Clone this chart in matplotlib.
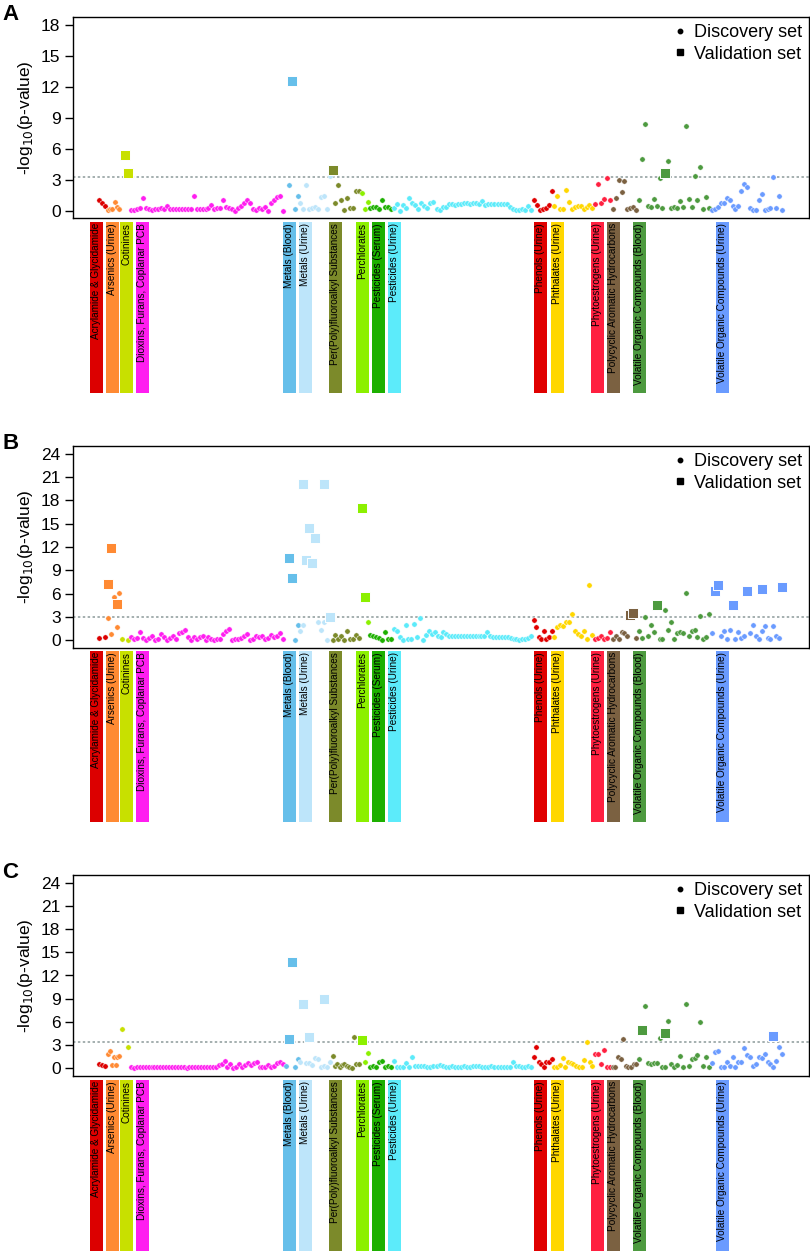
import numpy as np
import matplotlib
matplotlib.use('Agg')
import matplotlib.pyplot as plt
from matplotlib.lines import Line2D

plt.rcParams['font.family'] = ['Liberation Sans', 'DejaVu Sans']
nan = np.nan

# ---------------- categories ----------------
groups = ['Acrylamide & Glycidamide', 'Arsenics (Urine)', 'Cotinines',
          'Dioxins, Furans, Coplanar PCB', 'Metals (Blood)', 'Metals (Urine)',
          'Per(Poly)fluoroalkyl Substances', 'Perchlorates', 'Pesticides (Serum)',
          'Pesticides (Urine)', 'Phenols (Urine)', 'Phthalates (Urine)',
          'Phytoestrogens (Urine)', 'Polycyclic Aromatic Hydrocarbons',
          'Volatile Organic Compounds (Blood)', 'Volatile Organic Compounds (Urine)']
counts = [3, 5, 3, 53, 5, 11, 10, 3, 8, 48, 7, 14, 6, 9, 25, 25]
colors = ['#DC0000', '#FF8A33', '#C8E000', '#FF1EF0', '#66BFEA', '#BDE5FA',
          '#7C8A2A', '#8CF000', '#1DB000', '#5CEBFA', '#E00000', '#FFD700',
          '#FF2040', '#7B6141', '#4D9A3F', '#6A9BFF']
yticks_A = [0, 3, 6, 9, 12, 15, 18]
yticks_BC = [0, 3, 6, 9, 12, 15, 18, 21, 24]
thresholds = [3.3, 2.95, 3.45]

# ---------------- panel A (discovery, -log10 p) ----------------
A_acryl = [1.0, 0.8, 0.5]
A_ars = [0.1, 0.15, 0.2, 0.9, 0.35, 0.15]
A_cot = []
A_diox = [0.1, 0.1, 0.15, 0.3, 1.2, 0.25, 0.15, 0.1, 0.15, 0.15, 0.25, 0.15, 0.5, 0.15,
          0.15, 0.15, 0.15, 0.2, 0.2, 0.2, 0.2, 1.4, 0.15, 0.15, 0.2, 0.15, 0.25, 0.6,
          0.15, 0.3, 0.3, 1.0, 0.4, 0.25, 0.15, 0.0, 0.25, 0.5, 0.75, 1.05, 0.75, 0.15,
          0.1, 0.25, 0.15, 0.35, 0.0, 0.75, 1.05, 1.3, 1.45, 0.0]
A_mb = [nan, 2.5, nan, 0.2, 1.4]
A_mu = [0.8, 0.15, 2.5, 0.15, 0.3, 0.4, 0.15, 1.3, 1.4, 0.2, 3.4]
A_pfas = [nan, 0.8, 2.5, 1.0, 0.1, 1.2, 0.3, 0.3, 1.9, 1.9]
A_perc = [1.7, 0.2, 0.9]
A_ps = [0.3, 0.4, 0.4, 0.2, 1.05, 0.4, 0.4, 0.2]
A_pu = [0.25, 0.65, 0.0, 0.6, 0.25, 1.2, 0.75, 0.6, 0.15, 0.75, 0.5, 0.25, 0.75, 0.9,
        0.15, 0.1, 0.4, 0.4, 0.7, 0.65, 0.6, 0.65, 0.7, 0.75, 0.75, 0.65, 0.8, 0.75,
        0.65, 0.95, 0.6, 0.65, 0.65, 0.65, 0.65, 0.65, 0.65, 0.65, 0.4, 0.15, 0.1, 0.1,
        0.15, 0.1, 0.5, 0.05]
A_phen = [1.05, 0.6, 0.1, 0.15, 0.25, 0.6, 1.9]
A_phth = [0.5, 1.4, 0.15, 0.15, 2.0, 0.9, 0.15, 0.4, 0.5, 0.5, 0.15, 0.4, 0.6, 0.3]
A_phyto = [0.65, 2.6, 0.8, 1.1, 3.15, 1.0]
A_pah = [0.2, 1.2, 3.0, 1.85, 2.9, 0.2, 0.3, 0.4, 0.1]
A_vocb = [1.05, 5.0, 8.4, 0.5, 0.4, 1.1, 0.5, 3.2, 0.3, nan, 4.8, 0.3, 0.4, 0.3, 0.95,
          0.4, 8.25, 1.1, 0.4, 3.4, 1.05, 4.2, 0.2, 1.3, 0.3]
A_vocu = [0.1, 0.2, 0.4, 0.75, 0.75, 1.2, 1.0, 0.5, 0.2, 0.5, 1.95, 2.6, 2.3, 0.3, 0.1,
          0.1, 1.0, 1.65, 0.1, 0.15, 0.3, 3.25, 0.3, 1.45, 0.1]
# validation: (group index, slot within group, -log10 p)
A_valid = [(2, 1, 5.4), (2, 2, 3.65), (4, 2, 12.6), (6, 0, 4.0), (14, 9, 3.7)]

# ---------------- panel B ----------------
B_acryl = [0.35, 0.45]
B_ars = [2.85, 0.8, 5.6, 1.7, 6.05]
B_cot = [0.2, 0.05]
B_diox = [0.4, 0.2, 0.35, 1.05, 0.25, 0.05, 0.35, 0.6, 0.05, 0.2, 0.8, 0.4, 0.05, 0.3,
          0.5, 0.15, 0.9, 1.1, 1.35, 0.4, 0.05, 0.4, 0.2, 0.4, 0.6, 0.05, 0.4, 0.2, 0.05,
          0.1, 0.15, 0.8, 1.25, 1.4, 0.05, 0.1, 0.15, 0.25, 0.6, 0.8, 0.05, 0.1, 0.6, 0.4,
          0.6, 0.2, 0.3, 0.7, 0.4, 0.6, 0.9, 0.15]
B_mb = [nan, nan, nan, 0.05, 1.9]
B_mu = [1.15, 2.0, nan, nan, nan, nan, 2.4, 1.35, 2.3, 0.05, nan]
B_pfas = [0.05, 0.7, 0.1, 0.6, 0.05, 1.15, 0.1, 0.2, 0.7, 0.3]
B_perc = [nan, nan, 2.3]
B_ps = [0.7, 0.6, 0.45, 0.3, 0.05, 1.05, 0.1, 0.2]
B_pu = [1.5, 1.25, 0.4, 0.05, 1.9, 0.2, 0.2, 2.05, 0.4, 2.9, 0.05, 0.7, 1.25, 0.8, 1.1,
        0.5, 0.4, 1.1, 0.8, 0.5, 0.6, 0.55, 0.5, 0.55, 0.5, 0.5, 0.55, 0.5, 0.5, 0.5,
        0.55, 0.5, 1.0, 0.5, 0.45, 0.45, 0.45, 0.45, 0.45, 0.45, 0.3, 0.15, 0.1, 0.05,
        0.1, 0.15, 0.3, 0.5]
B_phen = [2.6, 1.65, 0.4, 0.2, 1.15, 0.15, 0.45, 1.2]
B_phth = [0.4, 1.75, 1.9, 1.85, 2.3, 2.3, 3.4, 1.15, 0.8, 0.5, 1.2, 0.2, 7.1, 0.7]
B_phyto = [0.2, 0.3, 0.6, 0.2, 0.3, 1.0]
B_pah = [0.2, 0.6, 0.2, 1.0, 0.95, 0.6, nan, nan, 0.3]
B_vocb = [1.2, 0.35, 2.95, 0.6, 1.95, 1.1, nan, 0.1, 0.1, 3.9, 1.3, 2.4, 0.2, 0.9, 1.0,
          0.9, 6.05, 0.6, 1.2, 1.3, 0.4, 3.1, 0.2, 0.4, 3.4]
B_vocu = [0.95, nan, nan, 0.5, 1.2, 0.2, 1.3, nan, 0.1, 1.1, 0.3, 0.5, nan, 0.95, 2.0,
          0.6, 0.1, 1.2, 1.85, 0.3, 0.1, 1.8, 0.6, 0.3, nan]
B_valid = [(1, 0, 7.2), (1, 1, 11.9), (1, 3, 4.7), (4, 1, 10.6), (4, 2, 8.0),
           (5, 1, 20.06), (5, 2, 10.3), (5, 3, 14.4), (5, 4, 10.0), (5, 5, 13.1),
           (5, 8, 20.06), (5, 10, 3.05), (7, 0, 17.0), (7, 1, 5.55),
           (13, 6, 3.25), (13, 7, 3.45), (14, 6, 4.5),
           (15, 1, 6.4), (15, 2, 7.1), (15, 7, 4.5), (15, 12, 6.3), (15, 17, 6.6),
           (15, 24, 6.8)]

# ---------------- panel C ----------------
C_acryl = [0.55, 0.45, 0.3]
C_ars = [1.9, 2.2, 0.4, 1.4, 0.4, 1.5, 1.6]
C_cot = [5.1, 2.8]
C_diox = [0.1, 0.05, 0.1, 0.1, 0.15, 0.1, 0.15, 0.1, 0.15, 0.2, 0.1, 0.1, 0.15, 0.1,
          0.15, 0.2, 0.15, 0.15, 0.1, 0.05, 0.1, 0.1, 0.15, 0.1, 0.15, 0.2, 0.15, 0.1,
          0.15, 0.2, 0.4, 0.6, 1.0, 0.2, 0.5, 0.05, 0.2, 0.55, 0.2, 0.45, 0.65, 0.4,
          0.65, 0.75, 0.1, 0.2, 0.1, 0.45, 0.2, 0.3, 0.65, 0.75, 0.5]
C_mb = [0.3, nan, nan, 0.1, 1.2]
C_mu = [0.75, nan, 0.7, 0.7, 0.4, 1.35, 1.15, 0.2, 0.35, 0.1, 0.8]
C_pfas = [1.65, 0.35, 0.6, 0.2, 0.4, 0.6, 0.35, 0.2, 0.0, 4.0, 0.5, 0.5]
C_perc = [nan, 0.85, 1.95]
C_ps = [0.2, 0.3, 0.2, 0.85, 1.0, 0.2, 0.35, 0.2]
C_pu = [1.0, 0.2, 0.2, 0.2, 0.65, 0.15, 1.5, 0.25, 0.25, 0.35, 0.35, 0.15, 0.2, 0.25,
        0.3, 0.4, 0.25, 0.2, 0.2, 0.25, 0.2, 0.2, 0.2, 0.25, 0.2, 0.2, 0.25, 0.3, 0.25,
        0.2, 0.2, 0.2, 0.25, 0.2, 0.2, 0.2, 0.2, 0.2, 0.2, 0.85, 0.3, 0.25, 0.2, 0.15,
        0.25, 0.1]
C_phen = [1.5, 2.75, 0.85, 0.55, 0.2, 0.75, 0.85, 1.2]
C_phth = [0.1, 0.2, 0.4, 1.3, 0.1, 0.75, 0.7, 0.55, 0.35, 0.2, 0.2, 1.1, 3.45, 0.8, 0.35]
C_phyto = [1.9, 1.85, 0.5, 2.35, 0.2, 0.2]
C_pah = [0.1, 0.1, 1.5, 1.25, 3.75, 0.35, 0.2, 0.2, 0.5, 0.55]
C_vocb = [1.2, nan, 8.1, 0.65, 0.5, 0.7, 0.65, 3.9, 0.2, 0.1, 6.15, 0.5, 0.2, 0.4, 1.6,
          0.1, 8.35, 0.3, 1.2, 1.35, 1.7, 6.0, 0.25, 1.4, 0.2]
C_vocu = [0.65, 2.05, 2.25, 0.2, 0.2, 0.85, 0.35, 1.4, 0.2, 0.85, 0.75, 2.65, 1.7, 1.5,
          0.3, 0.55, 1.4, 1.3, 1.9, 0.85, 0.55, 0.2, 1.0, 2.8, 1.9]
C_valid = [(4, 1, 3.75), (4, 2, 13.7), (5, 1, 8.3), (5, 3, 4.1), (5, 8, 8.95),
           (7, 0, 3.6), (14, 1, 4.95), (14, 9, 4.6), (15, 21, 4.2)]

A_disc = [A_acryl, A_ars, A_cot, A_diox, A_mb, A_mu, A_pfas, A_perc, A_ps, A_pu,
          A_phen, A_phth, A_phyto, A_pah, A_vocb, A_vocu]
B_disc = [B_acryl, B_ars, B_cot, B_diox, B_mb, B_mu, B_pfas, B_perc, B_ps, B_pu,
          B_phen, B_phth, B_phyto, B_pah, B_vocb, B_vocu]
C_disc = [C_acryl, C_ars, C_cot, C_diox, C_mb, C_mu, C_pfas, C_perc, C_ps, C_pu,
          C_phen, C_phth, C_phyto, C_pah, C_vocb, C_vocu]

# ---------------- layout ----------------
label_pos = [-0.86, 4.6, 9.4, 14.9, 65.2, 70.7, 81.0, 90.2, 95.7, 101.2,
             151.2, 157.0, 170.7, 176.2, 185.0, 213.5]
label_width = 4.45
W, H = 810, 1251
fig = plt.figure(figsize=(W / 100, H / 100), dpi=100)

starts = np.concatenate([[0], np.cumsum(counts)[:-1]])
panels = [
    ('A', A_disc, A_valid, (17, 218), (222, 393), (-0.7, 18.8), yticks_A, thresholds[0], 4),
    ('B', B_disc, B_valid, (446, 648), (651, 822), (-1.0, 25.0), yticks_BC, thresholds[1], 433),
    ('C', C_disc, C_valid, (875, 1076), (1080, 1251), (-1.0, 25.0), yticks_BC, thresholds[2], 862),
]
x0, x1 = 73, 809

for letter, disc, valid, (top, bot), (ltop, lbot), ylim, yt, thr, ly in panels:
    ax = fig.add_axes([x0 / W, 1 - bot / H, (x1 - x0) / W, (bot - top) / H])
    for g, vals in enumerate(disc):
        v = np.asarray(vals, dtype=float)
        if v.size == 0:
            continue
        xs = starts[g] + np.linspace(0, counts[g] - 1, v.size)
        ax.scatter(xs, v, s=15, color=colors[g], edgecolors='white', linewidths=0.35,
                   zorder=3)
    for g, slot, val in valid:
        ax.scatter([starts[g] + slot], [val], s=48, marker='s', color=colors[g],
                   edgecolors='white', linewidths=0.7, zorder=4)
    ax.axhline(thr, color='#8C9A9A', lw=1.1, ls=(0, (1.6, 1.6)), zorder=2)
    ax.set_xlim(-8.9, 243.2)
    ax.set_ylim(*ylim)
    ax.set_yticks(yt)
    ax.set_xticks([])
    ax.tick_params(axis='y', labelsize=12.5, length=6, width=1.0, pad=3)
    for sp in ax.spines.values():
        sp.set_linewidth(1.0)
    ax.set_ylabel('-log$_{10}$(p-value)', fontsize=12.5, labelpad=4)
    handles = [Line2D([], [], marker='o', color='black', ls='', markersize=3.2),
               Line2D([], [], marker='s', color='black', ls='', markersize=4.2)]
    ax.legend(handles, ['Discovery set', 'Validation set'], loc='upper right',
              frameon=False, fontsize=13, handlelength=0.6, handletextpad=0.45,
              borderaxespad=0.15, borderpad=0.25, labelspacing=0.25)

    lax = fig.add_axes([x0 / W, 1 - lbot / H, (x1 - x0) / W, (lbot - ltop) / H])
    lax.set_xlim(-8.9, 243.2)
    lax.set_ylim(0, 1)
    lax.bar(label_pos, 1, width=label_width, bottom=0, color=colors, align='center')
    for pos, name in zip(label_pos, groups):
        lax.text(pos, 0.994, name, rotation=90, ha='center', va='top', fontsize=7.2,
                 color='black')
    lax.axis('off')

    fig.text(2 / W, 1 - ly / H, letter, fontsize=16, fontweight='bold', ha='left',
             va='top')

fig.savefig('out.png', dpi=100)
